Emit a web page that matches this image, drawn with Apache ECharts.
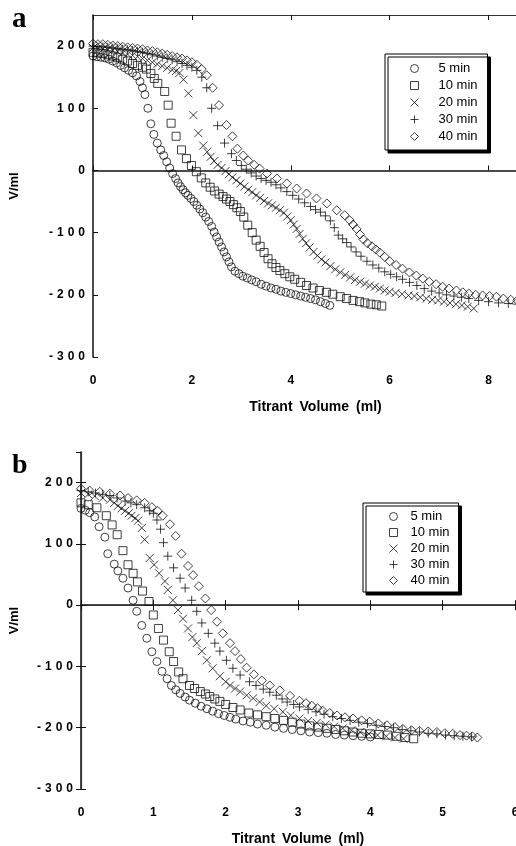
<!DOCTYPE html>
<html>
<head>
<meta charset="utf-8">
<script src="https://cdn.jsdelivr.net/npm/echarts@6/dist/echarts.min.js"></script>
<style>
html, body { margin: 0; padding: 0; background: #fff; }
#chart { width: 516px; height: 846px; }
</style>
</head>
<body>
<div id="chart"></div>
<script>
// legend names
var names = ['5 min', '10 min', '20 min', '30 min', '40 min'];

// panel a  [titrant volume (ml), V/ml]
var a5 = [[0,184],[0.08,183],[0.16,182],[0.24,181],[0.32,179],[0.4,176],[0.48,173],[0.56,169],[0.64,165],[0.72,161],[0.8,157],[0.88,152],[0.95,143],[1.0,133],[1.05,122],[1.11,100],[1.17,75],[1.23,58],[1.3,44],[1.37,33],[1.43,24],[1.49,14],[1.55,4],[1.61,-5],[1.67,-13],[1.72,-20],[1.77,-26],[1.82,-31],[1.87,-36],[1.92,-40],[1.98,-45],[2.04,-50],[2.1,-56],[2.16,-62],[2.22,-68],[2.28,-75],[2.34,-82],[2.4,-90],[2.45,-99],[2.5,-107],[2.55,-115],[2.6,-123],[2.65,-131],[2.7,-139],[2.75,-147],[2.8,-155],[2.87,-162],[2.95,-166],[3.03,-170],[3.12,-173],[3.21,-176],[3.3,-179],[3.4,-183],[3.5,-186],[3.6,-189],[3.7,-191],[3.8,-194],[3.9,-196],[4.0,-198],[4.1,-200],[4.2,-202],[4.3,-204],[4.4,-206],[4.5,-208],[4.6,-211],[4.7,-214],[4.79,-217]];
var a10 = [[0,190],[0.1,189],[0.2,188],[0.3,186],[0.4,184],[0.5,182],[0.6,179],[0.7,176],[0.8,172],[0.9,169],[1.0,166],[1.08,163],[1.17,156],[1.24,148],[1.31,140],[1.45,127],[1.52,105],[1.58,76],[1.68,55],[1.79,33],[1.89,19],[1.99,8],[2.09,-2],[2.19,-12],[2.28,-20],[2.37,-27],[2.46,-33],[2.55,-38],[2.63,-42],[2.7,-46],[2.77,-50],[2.84,-55],[2.91,-60],[2.98,-66],[3.05,-75],[3.13,-88],[3.22,-100],[3.3,-112],[3.38,-122],[3.46,-132],[3.54,-142],[3.62,-150],[3.7,-156],[3.78,-161],[3.88,-166],[3.98,-171],[4.08,-175],[4.2,-180],[4.32,-185],[4.45,-189],[4.58,-193],[4.72,-196],[4.85,-199],[5.0,-203],[5.13,-206],[5.26,-209],[5.39,-211],[5.5,-213],[5.62,-215],[5.73,-216],[5.84,-218]];
var a20 = [[0,197],[0.1,196],[0.2,195],[0.3,194],[0.4,193],[0.5,191],[0.6,189],[0.7,187],[0.8,185],[0.9,183],[1.0,180],[1.1,177],[1.2,174],[1.3,171],[1.4,168],[1.5,165],[1.6,162],[1.68,160],[1.75,157],[1.83,146],[1.93,124],[2.03,89],[2.13,60],[2.23,40],[2.31,30],[2.38,22],[2.45,15],[2.52,9],[2.6,4],[2.68,-1],[2.75,-6],[2.82,-11],[2.9,-16],[2.98,-21],[3.06,-26],[3.14,-31],[3.22,-35],[3.3,-40],[3.38,-44],[3.46,-49],[3.54,-53],[3.62,-56],[3.7,-60],[3.78,-64],[3.86,-68],[3.93,-74],[4.0,-80],[4.06,-87],[4.12,-94],[4.18,-102],[4.24,-110],[4.31,-117],[4.38,-124],[4.46,-131],[4.54,-137],[4.62,-143],[4.7,-148],[4.8,-154],[4.9,-159],[5.0,-164],[5.1,-168],[5.2,-172],[5.3,-176],[5.4,-179],[5.5,-182],[5.6,-185],[5.7,-187],[5.8,-190],[5.9,-193],[6.0,-195],[6.12,-197],[6.25,-199],[6.38,-201],[6.5,-202],[6.62,-204],[6.74,-206],[6.86,-208],[6.98,-209],[7.1,-211],[7.22,-213],[7.34,-215],[7.46,-217],[7.58,-219],[7.7,-222]];
var a30 = [[0,200],[0.1,199],[0.2,199],[0.3,198],[0.4,197],[0.5,196],[0.6,195],[0.7,194],[0.8,193],[0.9,191],[1.0,190],[1.1,188],[1.2,186],[1.3,184],[1.4,182],[1.5,180],[1.6,178],[1.7,175],[1.8,172],[1.9,169],[2.0,166],[2.1,161],[2.2,150],[2.3,133],[2.4,100],[2.52,72],[2.66,44],[2.8,27],[2.9,16],[3.0,8],[3.1,2],[3.2,-4],[3.3,-9],[3.4,-13],[3.5,-16],[3.6,-19],[3.7,-23],[3.8,-28],[3.92,-34],[4.04,-40],[4.16,-46],[4.28,-52],[4.4,-58],[4.5,-63],[4.6,-67],[4.7,-73],[4.8,-81],[4.88,-92],[4.96,-104],[5.05,-110],[5.13,-116],[5.22,-123],[5.32,-131],[5.42,-138],[5.54,-146],[5.66,-152],[5.78,-157],[5.9,-163],[6.02,-167],[6.14,-171],[6.26,-175],[6.4,-180],[6.55,-185],[6.7,-190],[6.85,-194],[7.0,-197],[7.15,-200],[7.3,-202],[7.45,-204],[7.6,-206],[7.8,-209],[8.0,-211],[8.2,-213],[8.4,-214],[8.58,-215]];
var a40 = [[0,204],[0.1,203],[0.2,203],[0.3,202],[0.4,201],[0.5,200],[0.6,199],[0.7,198],[0.8,197],[0.9,196],[1.0,195],[1.1,193],[1.2,192],[1.3,190],[1.4,188],[1.5,186],[1.6,184],[1.7,182],[1.8,180],[1.9,177],[2.0,174],[2.1,170],[2.2,163],[2.3,153],[2.42,133],[2.55,105],[2.7,73],[2.82,55],[2.92,35],[3.04,24],[3.14,16],[3.26,9],[3.37,3],[3.52,-5],[3.72,-13],[3.92,-21],[4.12,-29],[4.32,-37],[4.52,-45],[4.73,-53],[4.93,-64],[5.09,-72],[5.19,-80],[5.26,-87],[5.33,-94],[5.4,-103],[5.47,-111],[5.55,-117],[5.64,-122],[5.72,-127],[5.8,-132],[5.9,-139],[6.0,-146],[6.13,-152],[6.26,-158],[6.4,-164],[6.54,-169],[6.67,-174],[6.8,-179],[6.94,-183],[7.07,-187],[7.2,-190],[7.35,-193],[7.48,-196],[7.6,-198],[7.74,-200],[7.88,-201],[8.02,-202],[8.16,-203],[8.3,-206],[8.45,-208],[8.58,-209]];

// panel b
var b5 = [[0,158],[0.06,155],[0.12,151],[0.19,144],[0.25,128],[0.33,111],[0.37,84],[0.46,67],[0.51,56],[0.58,44],[0.65,28],[0.72,8],[0.77,-10],[0.84,-33],[0.91,-54],[0.98,-76],[1.05,-92],[1.12,-108],[1.19,-120],[1.25,-131],[1.31,-138],[1.37,-144],[1.44,-150],[1.5,-155],[1.58,-160],[1.66,-165],[1.74,-169],[1.82,-173],[1.9,-177],[1.98,-180],[2.06,-183],[2.14,-186],[2.24,-189],[2.34,-191],[2.44,-194],[2.56,-196],[2.68,-199],[2.8,-201],[2.92,-203],[3.04,-205],[3.16,-207],[3.28,-208],[3.4,-209],[3.52,-211],[3.64,-212],[3.76,-213],[3.88,-214],[4.0,-215]];
var b10 = [[0,167],[0.1,164],[0.22,159],[0.35,146],[0.43,131],[0.5,115],[0.58,89],[0.65,66],[0.72,52],[0.78,38],[0.85,23],[0.94,6],[1.0,-16],[1.07,-38],[1.14,-57],[1.22,-76],[1.28,-92],[1.35,-109],[1.41,-120],[1.5,-131],[1.57,-136],[1.65,-141],[1.72,-145],[1.78,-149],[1.85,-153],[1.92,-157],[2.0,-162],[2.1,-167],[2.2,-171],[2.32,-176],[2.44,-179],[2.56,-182],[2.68,-185],[2.8,-188],[2.92,-191],[3.04,-194],[3.16,-197],[3.28,-199],[3.4,-201],[3.52,-203],[3.64,-205],[3.76,-207],[3.88,-209],[4.0,-210],[4.12,-211],[4.24,-212],[4.36,-214],[4.48,-216],[4.6,-218]];
var b20 = [[0,183],[0.1,181],[0.19,178],[0.3,175],[0.4,172],[0.46,167],[0.51,162],[0.56,158],[0.61,154],[0.66,150],[0.7,146],[0.75,142],[0.79,138],[0.84,126],[0.88,107],[0.95,77],[1.01,66],[1.08,52],[1.16,39],[1.2,25],[1.27,8],[1.34,-8],[1.41,-22],[1.48,-38],[1.54,-52],[1.6,-62],[1.67,-75],[1.74,-90],[1.82,-103],[1.92,-116],[2.0,-125],[2.06,-131],[2.13,-136],[2.2,-141],[2.29,-147],[2.38,-152],[2.47,-158],[2.56,-164],[2.67,-169],[2.79,-174],[2.9,-180],[3.02,-185],[3.14,-189],[3.26,-192],[3.38,-195],[3.5,-198],[3.62,-201],[3.74,-204],[3.86,-207],[3.98,-210],[4.1,-212],[4.22,-214],[4.34,-216],[4.46,-218]];
var b30 = [[0,187],[0.1,185],[0.2,183],[0.3,181],[0.4,179],[0.5,175],[0.61,170],[0.69,167],[0.77,164],[0.88,159],[0.95,154],[1.0,150],[1.05,139],[1.1,124],[1.14,102],[1.2,80],[1.28,61],[1.37,44],[1.44,28],[1.53,8],[1.6,-10],[1.67,-29],[1.76,-46],[1.85,-62],[1.92,-75],[2.01,-90],[2.1,-103],[2.2,-114],[2.33,-125],[2.42,-131],[2.52,-137],[2.61,-142],[2.7,-147],[2.78,-153],[2.85,-158],[2.94,-162],[3.02,-166],[3.14,-170],[3.25,-174],[3.36,-178],[3.48,-182],[3.6,-185],[3.72,-188],[3.84,-191],[3.96,-193],[4.08,-196],[4.2,-198],[4.32,-200],[4.44,-203],[4.56,-205],[4.68,-207],[4.8,-209],[4.92,-210],[5.04,-212],[5.16,-213],[5.28,-214],[5.4,-215]];
var b40 = [[0,190],[0.12,187],[0.26,185],[0.4,182],[0.54,179],[0.65,175],[0.77,171],[0.88,167],[0.98,160],[1.06,154],[1.13,146],[1.23,132],[1.31,113],[1.39,84],[1.48,64],[1.55,49],[1.63,31],[1.72,11],[1.8,-8],[1.88,-27],[1.96,-46],[2.06,-62],[2.13,-75],[2.21,-88],[2.29,-102],[2.39,-113],[2.5,-123],[2.61,-131],[2.75,-139],[2.89,-148],[3.02,-156],[3.11,-160],[3.19,-164],[3.27,-168],[3.34,-172],[3.44,-176],[3.54,-180],[3.65,-183],[3.76,-185],[3.88,-188],[3.99,-190],[4.11,-193],[4.23,-196],[4.34,-199],[4.45,-202],[4.57,-204],[4.68,-205],[4.8,-206],[4.92,-207],[5.03,-209],[5.14,-210],[5.24,-212],[5.33,-213],[5.41,-214],[5.48,-216]];

var panelA = [a5, a10, a20, a30, a40];
var panelB = [b5, b10, b20, b30, b40];

var shapes = ['circle', 'rect', 'path://M0,0L10,10M0,10L10,0', 'path://M5,0L5,10M0,5L10,5', 'diamond'];
var sizes = [8, 8, 8, 9, 9];

var FONT = '"Liberation Sans", Arial, Helvetica, sans-serif';
var ink = '#111';

function spaced(v) {
	return String(v).split('').join('\u2004');
}

function makeSeries(list, xi, yi) {
	return list.map(function (d, i) {
		return {
			name: names[i],
			type: 'scatter',
			xAxisIndex: xi,
			yAxisIndex: yi,
			symbol: shapes[i],
			symbolSize: sizes[i],
			symbolKeepAspect: true,
			itemStyle: {color: 'none', borderColor: ink, borderWidth: 1},
			data: d
		};
	});
}

function bottomAxis(grid, max, interval) {
	return {
		type: 'value', gridIndex: grid, position: 'bottom',
		min: 0, max: max, interval: interval,
		name: 'Titrant\u2002Volume\u2002(ml)', nameLocation: 'middle', nameGap: 43,
		nameTextStyle: {fontFamily: FONT, fontWeight: 'bold', fontSize: 14, color: '#000'},
		axisLine: {lineStyle: {color: ink, width: 1.5}},
		axisTick: {inside: true, length: 5, lineStyle: {color: ink}},
		axisLabel: {margin: 18, fontFamily: FONT, fontWeight: 'bold', fontSize: 12, color: '#000'},
		splitLine: {show: false}
	};
}

function topAxis(grid, max, interval) {
	return {
		type: 'value', gridIndex: grid, position: 'top',
		min: 0, max: max, interval: interval,
		axisLine: {lineStyle: {color: '#333', width: 1.2}},
		axisTick: {inside: true, length: 5, lineStyle: {color: ink}},
		axisLabel: {show: false},
		splitLine: {show: false}
	};
}

function leftAxis(grid, gap) {
	return {
		type: 'value', gridIndex: grid, position: 'left',
		min: -300, max: 250, interval: 100,
		name: 'V/ml', nameLocation: 'middle', nameGap: gap,
		nameTextStyle: {fontFamily: FONT, fontWeight: 'bold', fontSize: 13, color: '#000'},
		axisLine: {lineStyle: {color: ink, width: 1.5}},
		axisTick: {inside: true, length: 5, lineStyle: {color: ink}},
		axisLabel: {margin: 8, showMaxLabel: false, fontFamily: FONT, fontWeight: 'bold', fontSize: 12, color: '#000', formatter: spaced},
		splitLine: {show: false}
	};
}

function legendBox(left, top, pad, textPad, gap) {
	return {
		data: names, orient: 'vertical', left: left, top: top, padding: pad,
		itemWidth: 8, itemHeight: 8, itemGap: gap, selectedMode: false,
		symbolKeepAspect: true,
		backgroundColor: '#fff', borderColor: '#000', borderWidth: 1,
		shadowColor: '#000', shadowOffsetX: 3, shadowOffsetY: 3, shadowBlur: 0,
		itemStyle: {borderWidth: 1},
		textStyle: {fontFamily: FONT, fontSize: 13, lineHeight: 13, color: '#000', padding: [0, 0, 0, textPad]}
	};
}

var myChart = echarts.init(document.getElementById('chart'));

var option = {
	animation: false,
	backgroundColor: '#fff',
	grid: [
		{left: 93, top: 15, width: 445, height: 342, outerBoundsMode: 'none', containLabel: false},
		{left: 81, top: 452, width: 434, height: 337, outerBoundsMode: 'none', containLabel: false}
	],
	xAxis: [
		bottomAxis(0, 9, 2),
		topAxis(0, 9, 2),
		bottomAxis(1, 6, 1),
		topAxis(1, 6, 1)
	],
	yAxis: [
		leftAxis(0, 72),
		leftAxis(1, 60),
		{
			type: 'value', gridIndex: 1, position: 'right',
			min: -300, max: 250, interval: 100,
			axisLine: {lineStyle: {color: '#333', width: 1.2}},
			axisTick: {inside: true, length: 5, lineStyle: {color: ink}},
			axisLabel: {show: false},
			splitLine: {show: false}
		}
	],
	legend: [
		legendBox(385, 54, [8, 10, 7, 23], 15, 4),
		legendBox(363, 503, [7, 9, 5, 24], 8, 3)
	],
	graphic: [
		{type: 'text', left: 12, top: 5, style: {text: 'a', font: 'bold 29px "Liberation Serif", "Times New Roman", serif', fill: '#000'}},
		{type: 'text', left: 12, top: 452, style: {text: 'b', font: 'bold 28px "Liberation Serif", "Times New Roman", serif', fill: '#000'}}
	],
	series: makeSeries(panelA, 0, 0).concat(makeSeries(panelB, 2, 1))
};

myChart.setOption(option);
</script>
</body>
</html>
